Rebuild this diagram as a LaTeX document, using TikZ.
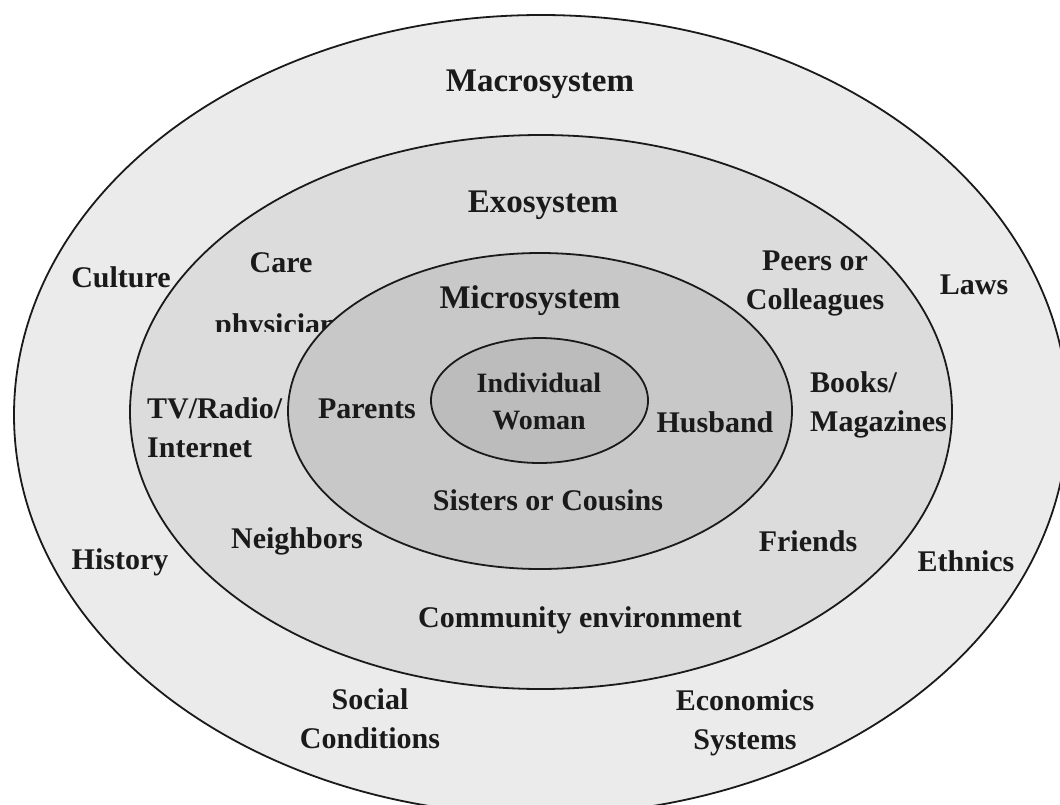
\documentclass[tikz,border=0pt]{standalone}
\usepackage{fontspec}
\setmainfont{Liberation Serif}
\usetikzlibrary{shapes.geometric}
\definecolor{macrofill}{HTML}{EBEBEB}
\definecolor{exofill}{HTML}{DCDCDC}
\definecolor{microfill}{HTML}{C8C8C8}
\definecolor{indfill}{HTML}{BCBCBC}
\definecolor{ink}{HTML}{1A1A1A}
\begin{document}
\begin{tikzpicture}[x=1pt,y=-1pt,
  ring/.style={draw=ink, line width=1.8pt, ellipse, inner sep=0pt},
  lbl/.style={font=\fontsize{30}{39}\selectfont\bfseries, text=ink, align=center, inner sep=0pt},
  lbll/.style={lbl, align=left},
  ttl/.style={font=\fontsize{33}{40}\selectfont\bfseries, text=ink, inner sep=0pt},
  ind/.style={font=\fontsize{28}{37}\selectfont\bfseries, text=ink, align=center, inner sep=0pt}]
\useasboundingbox (0,0) rectangle (1060,804);
\fill[white] (0,0) rectangle (1060,804);
\begin{scope}
\clip (0,0) rectangle (1060,804);
% rings
\node[ring, fill=macrofill, minimum width=1054pt, minimum height=800pt] (macro) at (541,415) {};
\node[ring, fill=exofill, minimum width=822pt, minimum height=554pt] (exo) at (541,412) {};
% clipped physician label (under the microsystem ring)
\begin{scope}
  \clip (150,290) rectangle (400,331);
  \node[lbl, anchor=base] (phys) at (276,334) {physician};
\end{scope}
\node[ring, fill=microfill, minimum width=504pt, minimum height=316pt] (micro) at (540,411) {};
\node[ring, fill=indfill, minimum width=217pt, minimum height=125pt] (indiv) at (539.5,400.5) {};
\end{scope}
% titles
\node[ttl] (tmacro) at (540,84) {Macrosystem};
\node[ttl] (texo) at (543,205) {Exosystem};
\node[ttl] (tmicro) at (530,301) {Microsystem};
% individual
\node[ind] (woman) at (539,401) {Individual\\Woman};
% microsystem labels
\node[lbl] (parents) at (367,409) {Parents};
\node[lbl] (husband) at (715,422) {Husband};
\node[lbl] (sisters) at (548,500) {Sisters or Cousins};
% exosystem labels
\node[lbl] (care) at (281,263) {Care};
\node[lbl] (peers) at (815,283) {Peers or\\Colleagues};
\node[lbll, anchor=west] (tv) at (147,428) {TV/Radio/\\Internet};
\node[lbll, anchor=west] (books) at (810,405) {Books/\\Magazines};
\node[lbl] (neigh) at (297,541) {Neighbors};
\node[lbl] (friends) at (808,541) {Friends};
\node[lbl] (comm) at (580,620) {Community environment};
% macrosystem labels
\node[lbl] (culture) at (121,277) {Culture};
\node[lbl] (laws) at (974,285) {Laws};
\node[lbl] (history) at (120,562) {History};
\node[lbl] (ethnics) at (966,561) {Ethnics};
\node[lbl] (social) at (370,719) {Social\\Conditions};
\node[lbl] (econ) at (745,723) {Economics\\Systems};
\end{tikzpicture}
\end{document}
